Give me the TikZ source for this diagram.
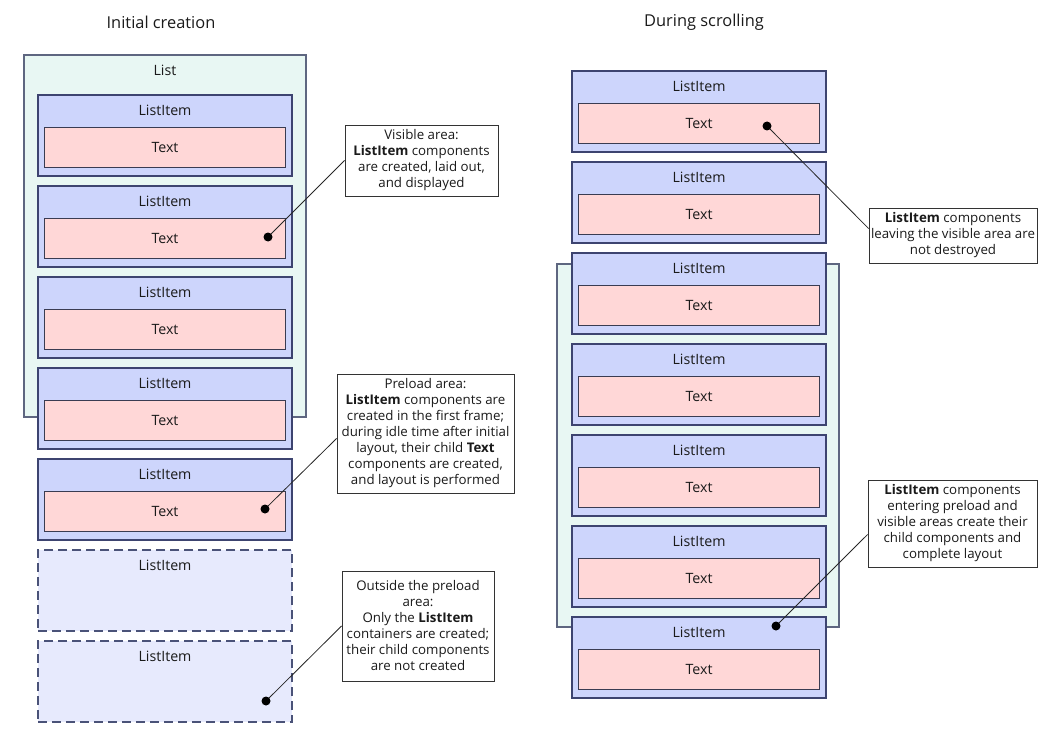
\documentclass[tikz,border=0pt]{standalone}
\usepackage{fontspec}
\setmainfont{Open Sans}
\usepackage{xcolor}
\usepackage{tikz}
\usetikzlibrary{positioning,calc}

\definecolor{listfill}{HTML}{E8F7F3}
\definecolor{listline}{HTML}{5E6680}
\definecolor{itemfill}{HTML}{CDD5FC}
\definecolor{itemline}{HTML}{3D4470}
\definecolor{ghostfill}{HTML}{E7EAFD}
\definecolor{ghostline}{HTML}{4A5278}
\definecolor{textfill}{HTML}{FFD7D7}
\definecolor{textline}{HTML}{3A3C52}
\definecolor{inkgray}{HTML}{1A1A1A}

\newcommand{\itemfont}{\fontsize{14.2}{16}\selectfont}
\newcommand{\notefont}{\fontsize{13.3}{16}\selectfont}
\newcommand{\headfont}{\fontsize{16.4}{19}\selectfont}

\begin{document}
\begin{tikzpicture}[x=1pt,y=-1pt,
    every node/.style={text=inkgray},
    listbox/.style={draw=listline, fill=listfill, line width=1.1pt, minimum width=282pt, minimum height=362pt, inner sep=0pt},
    item/.style={draw=itemline, fill=itemfill, line width=1.2pt, minimum width=254pt, minimum height=81pt, inner sep=0pt,
        label={[yshift=-15.5pt, anchor=center, font=\itemfont]north:ListItem}},
    ghost/.style={item, draw=ghostline, fill=ghostfill, dash pattern=on 9pt off 5pt},
    textbox/.style={draw=textline, fill=textfill, line width=1pt, minimum width=241pt, minimum height=40pt, inner sep=0pt, font=\itemfont},
    callout/.style={draw=black!80, fill=white, line width=0.9pt, align=center, inner sep=0pt, font=\notefont},
    pin/.style={line width=0.8pt, draw=black!85}]
    \useasboundingbox (0,0) rectangle (1057,733);

    % Titles
    \node[font=\headfont] (initial) at (161,22) {Initial creation};
    \node[font=\headfont] (scroll) at (704,22) {During scrolling};

    % Initial creation: list and items
    \node[listbox, label={[yshift=-15.5pt, anchor=center, font=\itemfont]north:List}] (list) at (165,236) {};
    \node[item] (l1) at (165,135.5) {};
    \node[item, below=8.8pt of l1] (l2) {};
    \node[item, below=8.8pt of l2] (l3) {};
    \node[item, below=8.8pt of l3] (l4) {};
    \node[item, below=8.8pt of l4] (l5) {};
    \node[ghost, below=8.8pt of l5] (g1) {};
    \node[ghost, below=8.8pt of g1] (g2) {};

    \node[textbox, below=33pt of l1.north] (t1) {Text};
    \node[textbox, below=33pt of l2.north] (t2) {Text};
    \node[textbox, below=33pt of l3.north] (t3) {Text};
    \node[textbox, below=33pt of l4.north] (t4) {Text};
    \node[textbox, below=33pt of l5.north] (t5) {Text};

    % During scrolling: list and items
    \node[listbox, minimum height=363pt] (slist) at (698,445.5) {};
    \node[item] (r1) at (699,111.5) {};
    \node[item, below=8.8pt of r1] (r2) {};
    \node[item, below=8.8pt of r2] (r3) {};
    \node[item, below=8.8pt of r3] (r4) {};
    \node[item, below=8.8pt of r4] (r5) {};
    \node[item, below=8.8pt of r5] (r6) {};
    \node[item, below=8.8pt of r6] (r7) {};

    \node[textbox, below=33pt of r1.north] (s1) {Text};
    \node[textbox, below=33pt of r2.north] (s2) {Text};
    \node[textbox, below=33pt of r3.north] (s3) {Text};
    \node[textbox, below=33pt of r4.north] (s4) {Text};
    \node[textbox, below=33pt of r5.north] (s5) {Text};
    \node[textbox, below=33pt of r6.north] (s6) {Text};
    \node[textbox, below=33pt of r7.north] (s7) {Text};

    % Pins
    \coordinate (d1) at (268,237);
    \coordinate (d2) at (265,509);
    \coordinate (d3) at (266,701);
    \coordinate (d4) at (767,126);
    \coordinate (d5) at (776,626);

    % Notes
    \node[callout, minimum width=153pt, minimum height=71pt] (vis) at (421.5,160.5)
        {Visible area:\\\textbf{ListItem} components\\are created, laid out,\\and displayed};
    \node[callout, minimum width=177pt, minimum height=119pt] (pre) at (425.5,433.5)
        {Preload area:\\\textbf{ListItem} components are\\created in the first frame;\\during idle time after initial\\layout, their child \textbf{Text}\\components are created,\\and layout is performed};
    \node[callout, minimum width=152pt, minimum height=110pt] (out) at (418,626)
        {Outside the preload\\area:\\Only the \textbf{ListItem}\\containers are created;\\their child components\\are not created};
    \node[callout, minimum width=168pt, minimum height=55pt] (keep) at (953,235.5)
        {\textbf{ListItem} components\\leaving the visible area are\\not destroyed};
    \node[callout, minimum width=169pt, minimum height=87pt] (enter) at (952.5,523.5)
        {\textbf{ListItem} components\\entering preload and\\visible areas create their\\child components and\\complete layout};

    \draw[pin] (d1) -- (vis.west);
    \draw[pin] (d2) -- ($(pre.west)+(0,5)$);
    \draw[pin] (d3) -- (out.west);
    \draw[pin] (d4) -- ($(keep.west)+(0,-7)$);
    \draw[pin] (d5) -- ($(enter.west)+(0,11)$);
    \foreach \d in {d1,d2,d3,d4,d5}
        \fill[black] (\d) circle (4.5pt);
\end{tikzpicture}
\end{document}
